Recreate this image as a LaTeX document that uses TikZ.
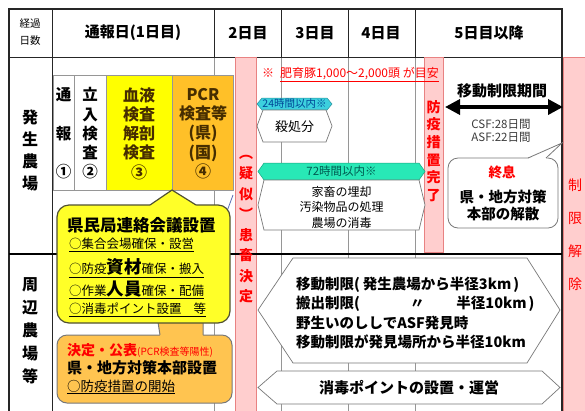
\documentclass[tikz,border=0pt]{standalone}
\usepackage{fontspec}
\setmainfont{Noto Sans CJK JP}
\usetikzlibrary{arrows.meta}
\definecolor{pinkbar}{RGB}{255,206,206}
\definecolor{pinkedge}{RGB}{232,130,130}
\definecolor{ylw}{RGB}{255,255,0}
\definecolor{ylwc}{RGB}{255,255,40}
\definecolor{yedge}{RGB}{80,80,50}
\definecolor{org}{RGB}{255,192,40}
\definecolor{orgc}{RGB}{255,196,80}
\definecolor{cyanb}{RGB}{60,208,222}
\definecolor{aqua}{RGB}{40,232,182}
\definecolor{brn}{RGB}{70,45,0}
\definecolor{gridc}{RGB}{150,150,150}
\definecolor{redt}{RGB}{255,0,0}
\definecolor{hexc}{RGB}{120,120,120}
\definecolor{bluet}{RGB}{0,70,150}
\definecolor{greent}{RGB}{0,90,80}
\definecolor{steelb}{RGB}{90,110,180}
\definecolor{darkt}{RGB}{60,60,60}
\newcommand\fsz[2]{\fontsize{#1bp}{#2bp}\selectfont}
\begin{document}
\begin{tikzpicture}[x=1bp,y=-1bp,
  grid/.style={draw=gridc, line width=0.6bp},
  frame/.style={draw=black!85, line width=1bp},
  barbox/.style={fill=pinkbar, draw=pinkedge, line width=0.6bp},
  cellbox/.style={draw=gridc, line width=0.6bp},
  lbl/.style={inner sep=0pt, align=center},
  hexw/.style={fill=white, draw=hexc, line width=0.7bp},
  vred/.style={lbl, text=redt, font=\bfseries\fsz{14}{#1}},
]
\useasboundingbox (0,0) rectangle (585,410);
\fill[white] (0,0) rectangle (585,410);

% ---- grid ----
\draw[grid] (214,57)--(214,412) (281,57)--(281,412) (348,57)--(348,412) (415,57)--(415,412);
\draw[frame] (214,9)--(214,57) (281,9)--(281,57) (348,9)--(348,57) (415,9)--(415,57);
\draw[frame] (52,9)--(52,412);
\draw[frame] (9,57)--(562,57);
\draw[draw=black!85, line width=1.4bp] (9,412)--(9,9)--(562,9)--(562,412);

% ---- pink bars ----
\filldraw[barbox] (235,57) rectangle (256,412);
\filldraw[barbox] (424,57) rectangle (443,252);
\filldraw[barbox] (563,57) rectangle (587,412);

% row divider
\draw[black, line width=1.6bp] (9,254)--(562,254);

% ---- sub table ----
\filldraw[cellbox, fill=white] (53,75) rectangle (74,190);
\filldraw[cellbox, fill=white] (74,75) rectangle (106,190);
\filldraw[cellbox, fill=ylw] (106,75) rectangle (172,190);
\filldraw[cellbox, fill=org] (172,75) rectangle (233,190);

% stray connector line
\draw[steelb, line width=0.8bp] (233,195) -- (226,214);

% ---- callouts ----
\filldraw[fill=orgc, draw=hexc, line width=1bp, rounded corners=10bp] (57,335) rectangle (232,403);
\fill[orgc] (160,336) -- (158,322) -- (203,322) -- (203,336) -- cycle;
\draw[hexc, line width=1bp] (160,335) -- (158,322) (203,322) -- (203,335);

\filldraw[fill=ylwc, draw=yedge, line width=1.2bp, rounded corners=12bp] (57,205) rectangle (230,323);
\fill[ylwc] (150,205) -- (172,190) -- (196,205) -- (196,206.3) -- (150,206.3) -- cycle;
\draw[yedge, line width=1.2bp] (150,205) -- (172,190) -- (196,205);

\filldraw[fill=white, draw=hexc, line width=0.8bp, rounded corners=10bp] (448,158) rectangle (558,228);
\fill[white] (528,158.8) -- (562,143) -- (546,158.8) -- cycle;
\draw[hexc, line width=0.8bp] (528,158) -- (562,143) -- (546,158);

% ---- hexagons ----
\filldraw[fill=cyanb, draw=cyanb!70!black, line width=0.5bp] (257,104) -- (262,98) -- (327,98) -- (332,104) -- (327,110) -- (262,110) -- cycle;
\filldraw[hexw] (263,110) -- (326,110) -- (332,126) -- (326,142) -- (263,142) -- (257,126) -- cycle;
\filldraw[fill=aqua, draw=aqua!70!black, line width=0.5bp] (258,171.5) -- (264,163) -- (419,163) -- (425,171.5) -- (419,180) -- (264,180) -- cycle;
\filldraw[hexw] (264,180) -- (419,180) -- (425,205) -- (419,230) -- (264,230) -- (258,205) -- cycle;
\filldraw[hexw] (293,258) -- (527,258) -- (560,310) -- (527,363) -- (293,363) -- (258,310) -- cycle;
\filldraw[hexw] (277,371) -- (542,371) -- (560,387.5) -- (542,404) -- (277,404) -- (258,387.5) -- cycle;

% ---- arrow ----
\coordinate (arrL) at (445,107);
\coordinate (arrR) at (563,107);
\draw[line width=3.5bp, {Triangle[length=15bp,width=15bp]}-{Triangle[length=15bp,width=15bp]}] (arrL) -- (arrR);

% ---- header texts ----
\node[lbl, font=\fsz{10.5}{17}] (hk) at (30,32) {経過\\日数};
\node[lbl, font=\bfseries\fsz{15}{15}] (h1) at (133,33) {通報日(1日目)};
\node[lbl, font=\bfseries\fsz{15}{15}] (h2) at (248,33) {2日目};
\node[lbl, font=\bfseries\fsz{15}{15}] (h3) at (315,33) {3日目};
\node[lbl, font=\bfseries\fsz{15}{15}] (h4) at (381,33) {4日目};
\node[lbl, font=\bfseries\fsz{15}{15}] (h5) at (489,33) {5日目以降};

% ---- left column ----
\node[lbl, font=\bfseries\fsz{16}{22}] (farm) at (30,150) {発\\生\\農\\場};
\node[lbl, font=\bfseries\fsz{16}{23}] (near) at (30,331) {周\\辺\\農\\場\\等};

% ---- sub table texts ----
\node[lbl, font=\bfseries\fsz{15.5}{38.5}] (c1) at (63.5,133.5) {通\\報\\①};
\node[lbl, font=\bfseries\fsz{15.5}{19.25}] (c2) at (90,133.5) {立\\入\\検\\査\\②};
\node[lbl, text=brn, font=\bfseries\fsz{16}{19.25}] (c3) at (139,133.5) {血液\\検査\\解剖\\検査\\③};
\node[lbl, text=brn, font=\bfseries\fsz{16}{19.25}] (c4) at (203,133.5) {PCR\\検査等\\(県)\\(国)\\④};

% ---- vertical bar texts ----
\node[vred=20.5] (giji) at (246,229) {︵\\疑\\似\\︶\\患\\畜\\決\\定};
\node[vred=17.6] (bouek) at (433.5,151) {防\\疫\\措\\置\\完\\了};
\node[lbl, text=redt, font=\fsz{14}{33}] (kaijo) at (575,235) {制\\限\\解\\除};

% ---- note ----
\node[lbl, anchor=west, text=redt, font=\fsz{12}{12}] (note) at (262,75) {※\hspace{6bp}\underline{肥育豚1,000～2,000頭 が目安}};

% ---- hex texts ----
\node[lbl, text=bluet, font=\fsz{10.5}{10.5}] (t24) at (294.5,104) {24時間以内※};
\node[lbl, font=\fsz{13}{13}] (kill) at (294.5,127) {殺処分};
\node[lbl, text=greent, font=\fsz{11.5}{11.5}] (t72) at (341.5,171.5) {72時間以内※};
\node[lbl, font=\fsz{12}{15.5}] (bury) at (341.5,207) {家畜の埋却\\汚染物品の処理\\農場の消毒};

\node[lbl, anchor=west, font=\bfseries\fsz{14.5}{14.5}] (m1) at (296,285) {移動制限(\hspace{3bp}発生農場から半径3km\hspace{2bp})};
\node[lbl, anchor=west, font=\bfseries\fsz{14.5}{14.5}] (m2) at (296,304) {搬出制限(\hspace{50bp}〃\hspace{32bp}半径10km\hspace{2bp})};
\node[lbl, anchor=west, font=\bfseries\fsz{14.5}{14.5}] (m3) at (296,323) {野生いのししでASF発見時};
\node[lbl, anchor=west, font=\bfseries\fsz{14.5}{14.5}] (m4) at (296,342) {移動制限が発見場所から半径10km};
\node[lbl, font=\bfseries\fsz{15}{15}] (disinf) at (409,387.5) {消毒ポイントの設置・運営};

% ---- movement period ----
\node[lbl, font=\bfseries\fsz{15}{15}] (period) at (502,91) {移動制限期間};
\node[lbl, text=darkt, font=\fsz{11.5}{13}] (csf) at (501,130.5) {CSF:28日間\\ASF:22日間};

% ---- end callout ----
\node[lbl, text=redt, font=\bfseries\fsz{13.5}{13.5}] (end1) at (502,172) {終息};
\node[lbl, font=\bfseries\fsz{14.5}{17}] (end2) at (503,205) {県・地方対策\\本部の解散};

% ---- yellow callout ----
\node[lbl, anchor=west, font=\bfseries\fsz{16.5}{16.5}] (y1) at (67,225) {県民局連絡会議設置};
\node[lbl, anchor=west, font=\fsz{12.5}{12.5}] (y2) at (69,245) {\underline{○集合会場確保・設営}};
\node[lbl, anchor=west, font=\fsz{12.5}{12.5}] (y3) at (69,268) {\underline{○防疫{\bfseries\fsz{17.5}{17.5}資材}確保・搬入}};
\node[lbl, anchor=west, font=\fsz{12.5}{12.5}] (y4) at (69,290) {\underline{○作業{\bfseries\fsz{17.5}{17.5}人員}確保・配備}};
\node[lbl, anchor=west, font=\fsz{12.5}{12.5}] (y5) at (69,310) {\underline{○消毒ポイント設置\hspace{12bp}等}};

% ---- orange callout ----
\node[lbl, anchor=west, text=redt] (o1) at (67,350) {{\bfseries\fsz{14}{14}決定・公表}{\fsz{10}{10}(PCR検査等陽性)}};
\node[lbl, anchor=west, font=\bfseries\fsz{15}{15}] (o2) at (67,368) {県・地方対策本部設置};
\node[lbl, anchor=west, font=\fsz{13.5}{13.5}] (o3) at (67,387) {\underline{○防疫措置の開始}};
\end{tikzpicture}
\end{document}
